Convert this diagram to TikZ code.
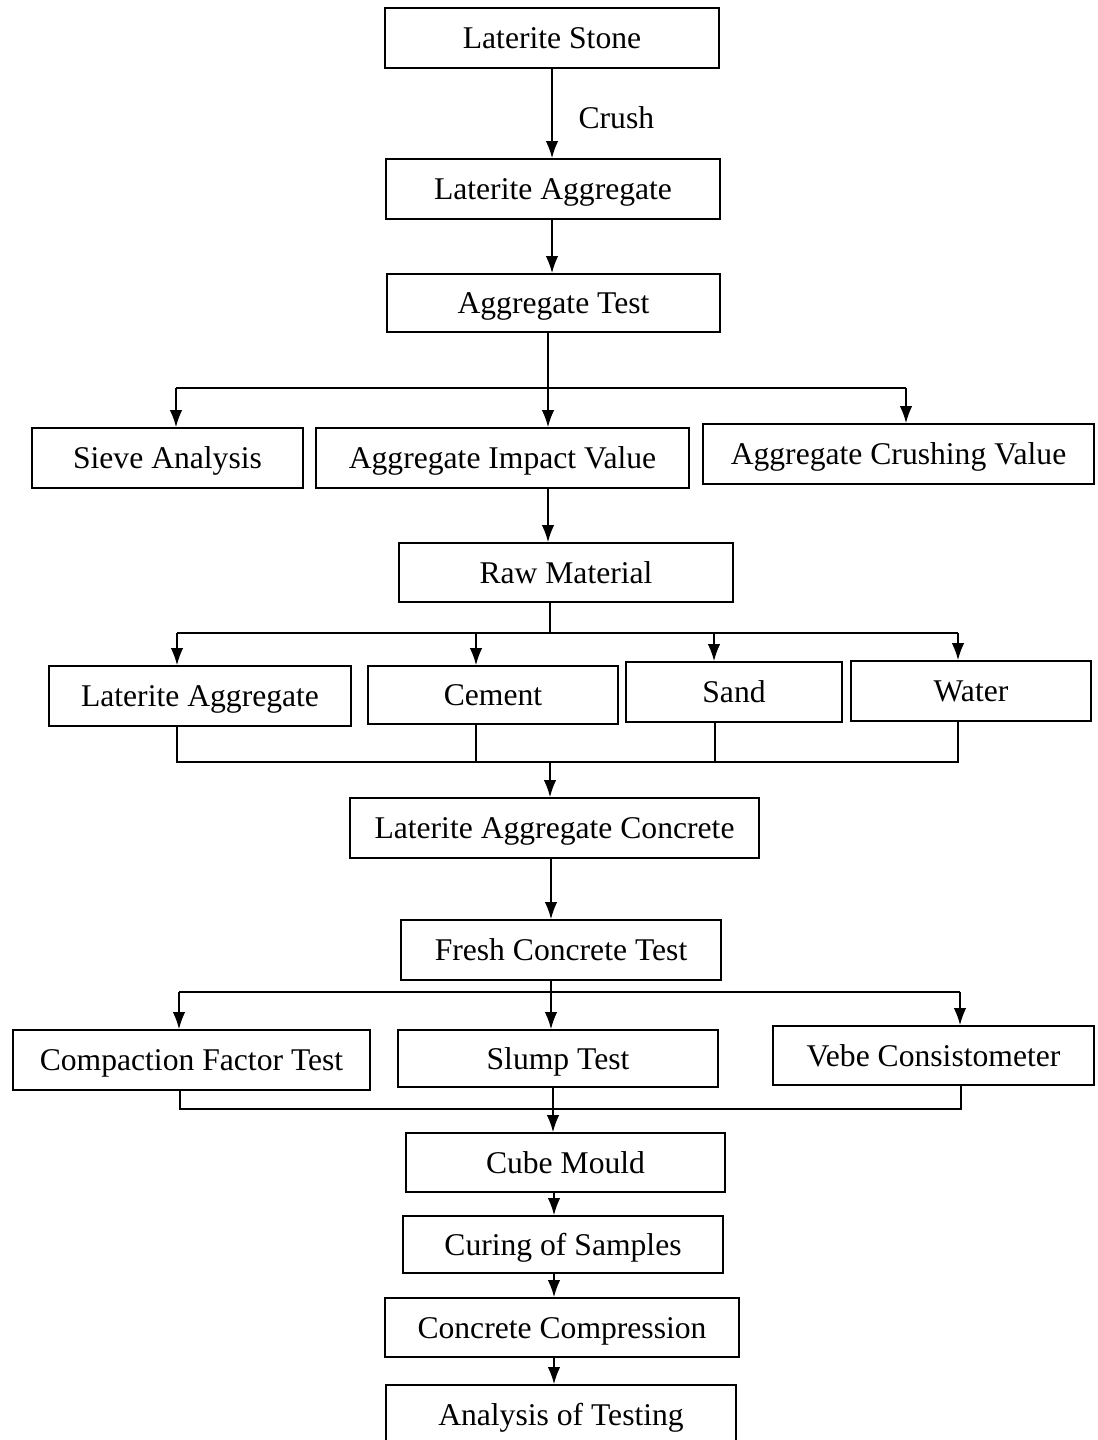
\documentclass[tikz,border=0pt]{standalone}
\usepackage{fontspec}
\setmainfont{Liberation Serif}
\usetikzlibrary{arrows.meta}

\begin{document}
\begin{tikzpicture}[x=0.02cm, y=-0.02cm,
  flowbox/.style={draw, line width=1.1pt, minimum height=1.2cm, inner sep=0pt, text height=12pt, text depth=0pt, font=\fontsize{18}{22}\selectfont},
  link/.style={line width=0.8pt},
  arr/.style={link, -{Latex[length=0.34cm,width=0.25cm]}}]
\useasboundingbox (0,0) rectangle (1098,1440);
\node[flowbox, minimum width=6.68cm] (stone) at (552,38) {Laterite Stone};
\node[flowbox, minimum width=6.68cm] (agg) at (553,189) {Laterite Aggregate};
\node[flowbox, minimum width=6.66cm, minimum height=1.16cm] (aggtest) at (553.5,303) {Aggregate Test};
\node[flowbox, minimum width=5.42cm] (sieve) at (167.5,458) {Sieve Analysis};
\node[flowbox, minimum width=7.46cm] (impact) at (502.5,458) {Aggregate Impact Value};
\node[flowbox, minimum width=7.82cm] (crushing) at (898.5,454) {Aggregate Crushing Value};
\node[flowbox, minimum width=6.68cm, minimum height=1.18cm] (raw) at (566,572.5) {Raw Material};
\node[flowbox, minimum width=6.04cm] (lagg) at (200,696) {Laterite Aggregate};
\node[flowbox, minimum width=5.0cm, minimum height=1.16cm] (cement) at (493,695) {Cement};
\node[flowbox, minimum width=4.32cm] (sand) at (734,692) {Sand};
\node[flowbox, minimum width=4.8cm] (water) at (971,691) {Water};
\node[flowbox, minimum width=8.18cm] (lac) at (554.5,828) {Laterite Aggregate Concrete};
\node[flowbox, minimum width=6.4cm] (fresh) at (561,950) {Fresh Concrete Test};
\node[flowbox, minimum width=7.14cm] (compaction) at (191.5,1060) {Compaction Factor Test};
\node[flowbox, minimum width=6.4cm, minimum height=1.14cm] (slump) at (558,1058.5) {Slump Test};
\node[flowbox, minimum width=6.42cm, minimum height=1.18cm] (vebe) at (933.5,1055.5) {Vebe Consistometer};
\node[flowbox, minimum width=6.38cm, minimum height=1.18cm] (cube) at (565.5,1162.5) {Cube Mould};
\node[flowbox, minimum width=6.4cm, minimum height=1.14cm] (curing) at (563,1244.5) {Curing of Samples};
\node[flowbox, minimum width=7.08cm, minimum height=1.18cm] (compression) at (562,1327.5) {Concrete Compression};
\node[flowbox, minimum width=7.0cm] (analysis) at (561,1415) {Analysis of Testing};

\coordinate (c1) at (552,0);
\draw[arr] (stone.south -| c1) -- (agg.north -| c1) node[pos=0.55, right=0.4cm, font=\fontsize{18}{22}\selectfont] {Crush};
\draw[arr] (agg.south -| c1) -- (aggtest.north -| c1);

\coordinate (b1) at (548,388);
\coordinate (b1l) at (176,388);
\coordinate (b1r) at (906,388);
\draw[link] (aggtest.south -| b1) -- (b1);
\draw[link] (b1l) -- (b1r);
\draw[arr] (b1l) -- (b1l |- sieve.north);
\draw[arr] (b1) -- (b1 |- impact.north);
\draw[arr] (b1r) -- (b1r |- crushing.north);
\draw[arr] (impact.south -| b1) -- (raw.north -| b1);

\coordinate (b2) at (550,633);
\coordinate (b2l) at (177,633);
\coordinate (b2c) at (476,633);
\coordinate (b2s) at (714,633);
\coordinate (b2r) at (958,633);
\draw[link] (raw.south -| b2) -- (b2);
\draw[link] (b2l) -- (b2r);
\draw[arr] (b2l) -- (b2l |- lagg.north);
\draw[arr] (b2c) -- (b2c |- cement.north);
\draw[arr] (b2s) -- (b2s |- sand.north);
\draw[arr] (b2r) -- (b2r |- water.north);

\coordinate (m2) at (550,762);
\coordinate (m2l) at (177,762);
\coordinate (m2c) at (476,762);
\coordinate (m2s) at (715,762);
\coordinate (m2r) at (958,762);
\draw[link] (lagg.south -| m2l) -- (m2l) -- (m2r) -- (water.south -| m2r);
\draw[link] (cement.south -| m2c) -- (m2c);
\draw[link] (sand.south -| m2s) -- (m2s);
\draw[arr] (m2) -- (m2 |- lac.north);

\coordinate (c2) at (551,0);
\draw[arr] (lac.south -| c2) -- (fresh.north -| c2);

\coordinate (b3) at (551,992);
\coordinate (b3l) at (179,992);
\coordinate (b3r) at (960,992);
\draw[link] (fresh.south -| b3) -- (b3);
\draw[link] (b3l) -- (b3r);
\draw[arr] (b3l) -- (b3l |- compaction.north);
\draw[arr] (b3) -- (b3 |- slump.north);
\draw[arr] (b3r) -- (b3r |- vebe.north);

\coordinate (m3) at (553,1109);
\coordinate (m3l) at (180,1109);
\coordinate (m3r) at (961,1109);
\draw[link] (compaction.south -| m3l) -- (m3l) -- (m3r) -- (vebe.south -| m3r);
\draw[arr] (slump.south -| m3) -- (cube.north -| m3);

\coordinate (c3) at (554,0);
\draw[arr] (cube.south -| c3) -- (curing.north -| c3);
\draw[arr] (curing.south -| c3) -- (compression.north -| c3);
\draw[arr] (compression.south -| c3) -- (analysis.north -| c3);
\end{tikzpicture}
\end{document}
